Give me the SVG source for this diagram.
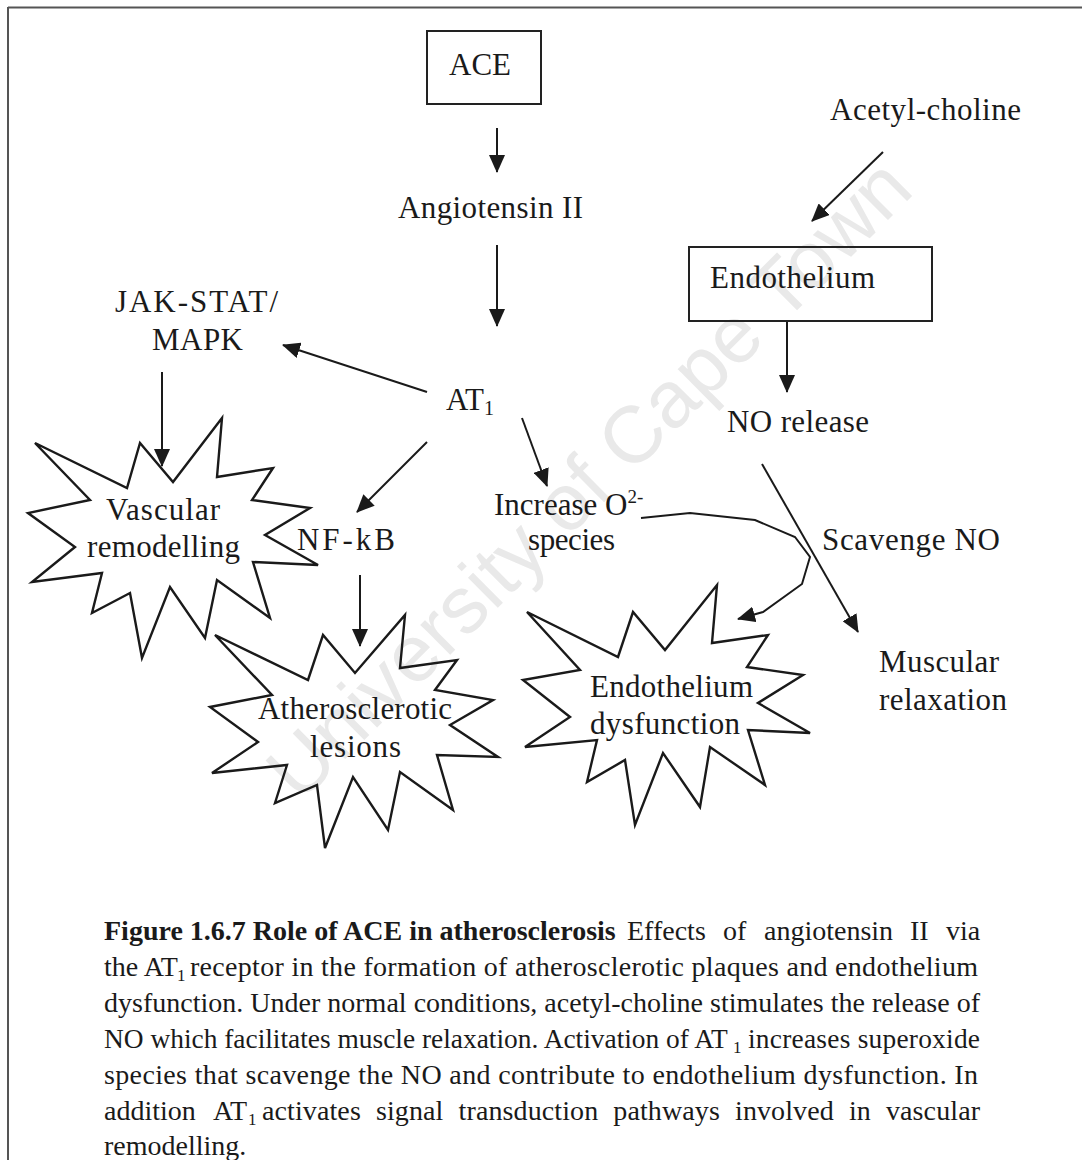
<svg xmlns="http://www.w3.org/2000/svg" width="1082" height="1160" viewBox="0 0 1082 1160">
<defs>
<style>
.lbl{font-family:"Liberation Serif","Times New Roman",serif;font-size:31px;fill:#1a1a1a}
.cap{font-family:"Liberation Serif","Times New Roman",serif;font-size:28px;fill:#1a1a1a}
.cap2{font-family:"Liberation Serif","Times New Roman",serif;font-size:27.4px;fill:#1a1a1a}
.sub{font-family:"Liberation Serif","Times New Roman",serif;font-size:17px;fill:#1a1a1a}
.b{font-weight:bold}
.box{fill:none;stroke:#222;stroke-width:2}
.star{fill:none;stroke:#1a1a1a;stroke-width:2.4;stroke-linejoin:miter}
.arr{fill:none;stroke:#1a1a1a;stroke-width:2;marker-end:url(#ah)}
.wm{font-family:"Liberation Sans",Arial,sans-serif;font-size:80px;fill:#e9e9e9}
</style>
<marker id="ah" viewBox="0 0 18 16" refX="17" refY="8" markerWidth="18" markerHeight="16" markerUnits="userSpaceOnUse" orient="auto">
<path d="M0,0 L18,8 L0,16 z" fill="#1a1a1a"/>
</marker>
</defs>
<rect width="1082" height="1160" fill="#fff"/>
<g id="watermark">
<text class="wm" transform="translate(300,804) rotate(-44.8)" textLength="868" lengthAdjust="spacingAndGlyphs">University of Cape Town</text>
</g>
<g id="frame" stroke="#555" stroke-width="2" fill="none">
<line x1="8" y1="7.5" x2="1082" y2="7.5"/>
<line x1="8" y1="7" x2="8" y2="1160"/>
</g>
<g id="connectors">
<line class="arr" x1="497" y1="128" x2="497" y2="172"/>
<line class="arr" x1="497" y1="245" x2="497" y2="326"/>
<line class="arr" x1="427" y1="392" x2="283" y2="345"/>
<line class="arr" x1="162" y1="372" x2="162" y2="466"/>
<line class="arr" x1="427" y1="442" x2="357" y2="512"/>
<line class="arr" x1="522" y1="418" x2="547" y2="486"/>
<line class="arr" x1="360" y1="575" x2="360" y2="646"/>
<line class="arr" x1="883" y1="152" x2="812" y2="221"/>
<line class="arr" x1="787" y1="322" x2="787" y2="392"/>
<line class="arr" x1="762" y1="464" x2="858" y2="632"/>
<path class="arr" d="M641,518 L690,513 L755,520 L795,537 L810,557 L802,584 L763,612 L738,619"/>
</g>
<g id="node-ace">
<rect class="box" x="427" y="31" width="114" height="73"/>
<text class="lbl" x="449" y="75">ACE</text>
</g>
<g id="node-acetylcholine">
<text class="lbl" x="830" y="120" textLength="191">Acetyl-choline</text>
</g>
<g id="node-angiotensin">
<text class="lbl" x="398" y="218" textLength="185">Angiotensin II</text>
</g>
<g id="node-endothelium">
<rect class="box" x="689" y="247" width="243" height="74"/>
<text class="lbl" x="710" y="288" textLength="165">Endothelium</text>
</g>
<g id="node-jak">
<text class="lbl" x="115" y="312" textLength="163">JAK-STAT/</text>
<text class="lbl" x="152" y="350" textLength="91">MAPK</text>
</g>
<g id="node-at1">
<text class="lbl" x="446" y="410">AT<tspan font-size="20" dy="5">1</tspan></text>
</g>
<g id="node-no">
<text class="lbl" x="727" y="432" textLength="142">NO release</text>
</g>
<g id="node-o2">
<text class="lbl" x="494" y="515">Increase O<tspan font-size="19" dy="-12">2-</tspan></text>
<text class="lbl" x="528" y="550" textLength="87">species</text>
</g>
<g id="node-nfkb">
<text class="lbl" x="297" y="550" textLength="98">NF-kB</text>
</g>
<g id="node-scavenge">
<text class="lbl" x="822" y="550" textLength="178">Scavenge NO</text>
</g>
<g id="node-vascular">
<polygon class="star" points="35,443 127,488 140,443 173,482 222,418 217,477 273,468 252,500 310,508 265,535 318,565 253,562 270,618 217,580 205,638 170,587 142,658 130,593 92,613 102,573 32,582 75,547 28,513 90,500"/>
<text class="lbl" x="106" y="520" textLength="114">Vascular</text>
<text class="lbl" x="87" y="557" textLength="153">remodelling</text>
</g>
<g id="node-athero">
<polygon class="star" points="215,635 308,680 323,635 355,673 405,615 400,668 457,660 435,690 493,700 450,725 498,757 437,755 453,810 400,772 388,830 353,777 325,848 317,785 275,803 287,765 212,773 258,742 210,707 272,695"/>
<text class="lbl" x="258" y="719" textLength="194">Atherosclerotic</text>
<text class="lbl" x="310" y="757" textLength="91">lesions</text>
</g>
<g id="node-endo-dys">
<polygon class="star" points="527,612 618,657 633,612 665,650 717,585 712,643 768,635 747,667 803,675 758,703 810,733 748,730 765,785 710,747 700,807 663,753 635,825 625,760 587,782 597,740 525,747 570,717 523,680 580,670"/>
<text class="lbl" x="590" y="697" textLength="163">Endothelium</text>
<text class="lbl" x="590" y="734" textLength="150">dysfunction</text>
</g>
<g id="node-muscular">
<text class="lbl" x="879" y="672" textLength="120">Muscular</text>
<text class="lbl" x="879" y="710" textLength="128">relaxation</text>
</g>
<g id="caption">
<text class="cap b" x="104" y="940">Figure 1.6.7 Role of ACE in atherosclerosis</text>
<text class="cap" x="627" y="940">Effects</text>
<text class="cap" x="723" y="940">of</text>
<text class="cap" x="764" y="940">angiotensin</text>
<text class="cap" x="910" y="940">II</text>
<text class="cap" x="946" y="940">via</text>
<text class="cap" x="104" y="976">the AT</text>
<text class="sub" x="177" y="981">1</text>
<text class="cap" x="190" y="976" textLength="788" lengthAdjust="spacing">receptor in the formation of atherosclerotic plaques and endothelium</text>
<text class="cap" x="104" y="1012" textLength="876" lengthAdjust="spacing">dysfunction. Under normal conditions, acetyl-choline stimulates the release of</text>
<text class="cap2" x="104" y="1048">NO which facilitates muscle relaxation. Activation of AT</text>
<text class="sub" x="733" y="1053">1</text>
<text class="cap2" x="748" y="1048" textLength="232" lengthAdjust="spacing">increases superoxide</text>
<text class="cap" x="104" y="1084" textLength="874" lengthAdjust="spacing">species that scavenge the NO and contribute to endothelium dysfunction. In</text>
<text class="cap" x="104" y="1120">addition</text>
<text class="cap" x="213" y="1120">AT</text>
<text class="sub" x="248" y="1125">1</text>
<text class="cap" x="262" y="1120" word-spacing="8" textLength="718" lengthAdjust="spacing">activates signal transduction pathways involved in vascular</text>
<text class="cap" x="104" y="1155">remodelling.</text>
</g>
</svg>
